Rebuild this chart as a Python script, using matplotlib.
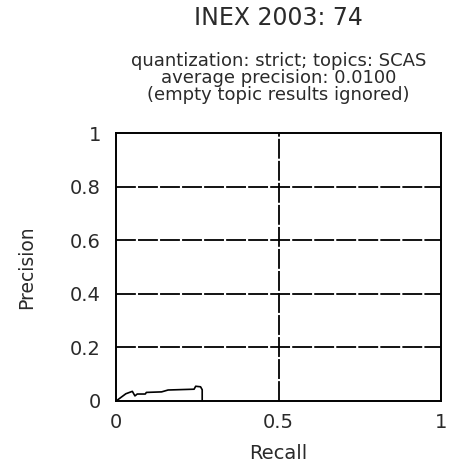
import numpy as np
import matplotlib
matplotlib.use('Agg')
import matplotlib.pyplot as plt

plt.rcParams['font.family'] = ['DejaVu Sans']

# interpolated precision/recall curve for run 74
recall = [0.0, 0.030, 0.050, 0.058, 0.065, 0.090, 0.093, 0.140, 0.160,
          0.240, 0.245, 0.260, 0.265, 0.265]
precision = [0.0, 0.027, 0.036, 0.019, 0.026, 0.026, 0.032, 0.034, 0.041,
             0.044, 0.055, 0.053, 0.042, 0.0]

ticks_x = [0, 0.5, 1]
ticks_y = [0, 0.2, 0.4, 0.6, 0.8, 1]

title = 'INEX 2003: 74'
subtitle = ['quantization: strict; topics: SCAS',
            'average precision: 0.0100',
            '(empty topic results ignored)']

fig = plt.figure(figsize=(4.5, 4.66), dpi=100)
ax = fig.add_axes([0.258, 0.1395, 0.722, 0.575])

ax.plot(recall, precision, color='black', linewidth=1.2)

ax.set_xlim(0, 1)
ax.set_ylim(0, 1)
ax.set_xticks(ticks_x)
ax.set_xticklabels(['0', '0.5', '1'])
ax.set_yticks(ticks_y)
ax.set_yticklabels(['0', '0.2', '0.4', '0.6', '0.8', '1'])
ax.tick_params(length=0, labelsize=14, labelcolor='#2a2a2a')
ax.tick_params(axis='y', pad=11)
ax.tick_params(axis='x', pad=9)

for y in ticks_y[1:-1]:
    ax.axhline(y, color='black', linewidth=1.3, dashes=(11, 1.2))
ax.axvline(0.5, color='black', linewidth=1.3, dashes=(11, 1.2))

for s in ax.spines.values():
    s.set_linewidth(1.4)

ax.set_xlabel('Recall', fontsize=14, color='#2a2a2a', labelpad=8)
ax.set_ylabel('Precision', fontsize=13.5, color='#2a2a2a', labelpad=24)

fig.text(0.619, 1 - 18 / 466, title, ha='center', va='center', fontsize=17, color='#2a2a2a')
for i, line in enumerate(subtitle):
    fig.text(0.619, 1 - (61 + 17 * i) / 466, line, ha='center', va='center',
             fontsize=13, color='#2a2a2a')

fig.savefig('out.png', dpi=100)
